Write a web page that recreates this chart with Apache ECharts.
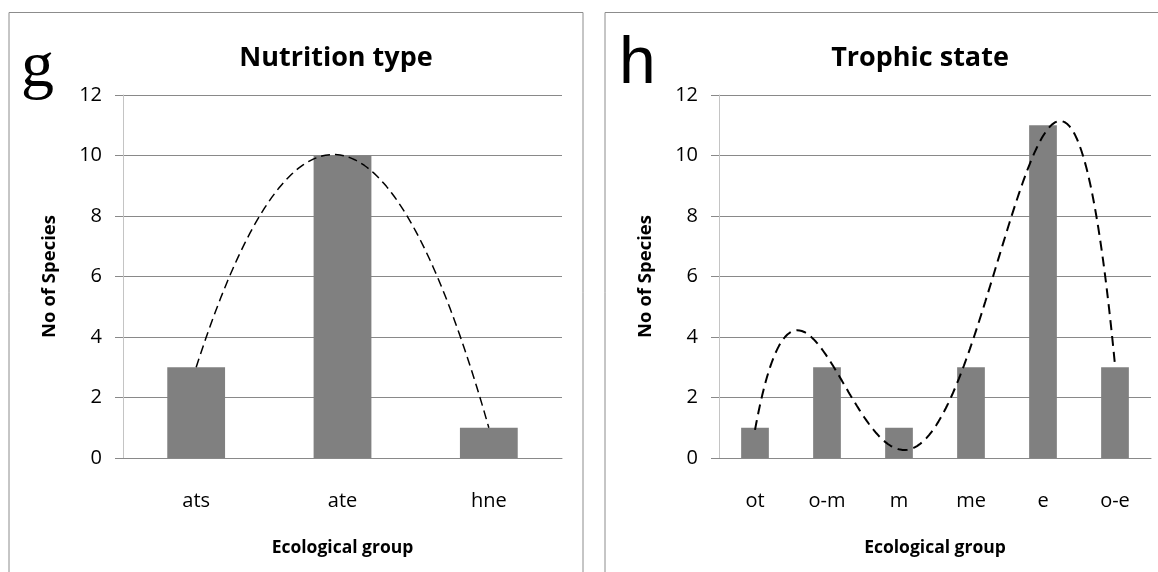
<!DOCTYPE html>
<html>
<head>
<meta charset="utf-8">
<script src="https://cdn.jsdelivr.net/npm/echarts@6/dist/echarts.min.js"></script>
<style>
  html, body { margin: 0; padding: 0; background: #fff; }
  #chart { width: 1158px; height: 572px; }
</style>
</head>
<body>
<div id="chart"></div>
<script>
// Species counts per ecological group
const nutritionGroups = ['ats', 'ate', 'hne'];
const nutritionCounts = [3, 10, 1];

const trophicGroups = ['ot', 'o-m', 'm', 'me', 'e', 'o-e'];
const trophicCounts = [1, 3, 1, 3, 11, 3];

const countTicks = [0, 2, 4, 6, 8, 10, 12];

// Polynomial trend line order used for each panel
const nutritionTrendOrder = 2;
const trophicTrendOrder = 4;

// Least-squares polynomial fit (normal equations, Gaussian elimination)
function polyFit(ys, order) {
  const n = order + 1;
  const A = [];
  for (let r = 0; r < n; r++) {
    const row = [];
    for (let c = 0; c < n; c++) {
      let s = 0;
      ys.forEach((_, i) => { s += Math.pow(i, r + c); });
      row.push(s);
    }
    let b = 0;
    ys.forEach((y, i) => { b += y * Math.pow(i, r); });
    row.push(b);
    A.push(row);
  }
  for (let c = 0; c < n; c++) {
    let p = c;
    for (let r = c + 1; r < n; r++) if (Math.abs(A[r][c]) > Math.abs(A[p][c])) p = r;
    [A[c], A[p]] = [A[p], A[c]];
    for (let r = 0; r < n; r++) {
      if (r === c) continue;
      const f = A[r][c] / A[c][c];
      for (let k = c; k <= n; k++) A[r][k] -= f * A[c][k];
    }
  }
  return A.map((row, i) => row[n] / row[i]);
}

// Trend curve sampled along the category positions
function trendCurve(ys, order) {
  const coef = polyFit(ys, order);
  const pts = [];
  const last = ys.length - 1;
  for (let k = 0; k <= last * 60; k++) {
    const x = k / 60;
    let y = 0;
    coef.forEach((c, p) => { y += c * Math.pow(x, p); });
    pts.push([x, y]);
  }
  return pts;
}

const FONT = '"Open Sans", "Noto Sans", sans-serif';
const GRID_COLOR = '#898989';
const BAR_COLOR = '#808080';

function categoryAxis(gridIndex, cats) {
  return {
    type: 'category', gridIndex, data: cats,
    axisLine: { lineStyle: { color: GRID_COLOR, width: 1 } },
    axisTick: { show: false },
    axisLabel: { color: '#000', fontFamily: FONT, fontSize: 20, margin: 33 },
    name: 'Ecological group', nameLocation: 'middle', nameGap: 81,
    nameTextStyle: { color: '#000', fontFamily: FONT, fontSize: 17.5, fontWeight: 'bold' }
  };
}

function valueAxis(gridIndex) {
  return {
    type: 'value', gridIndex, min: 0, max: 12, interval: 2,
    axisLine: { show: true, onZero: false, lineStyle: { color: '#c4c4c4', width: 1 } },
    axisTick: { show: true, length: 8, lineStyle: { color: GRID_COLOR } },
    splitLine: { lineStyle: { color: GRID_COLOR, width: 1 } },
    axisLabel: {
      color: '#000', fontFamily: FONT, fontSize: 20, margin: 21,
      formatter: v => countTicks.includes(v) ? String(v) : ''
    },
    name: 'No of Species', nameLocation: 'middle', nameGap: 64, nameRotate: 90,
    nameTextStyle: { color: '#000', fontFamily: FONT, fontSize: 18.5, fontWeight: 'bold' }
  };
}

function hiddenX(gridIndex, count) {
  return { type: 'value', gridIndex, min: -0.5, max: count - 0.5, show: false };
}

const chart = echarts.init(document.getElementById('chart'), null, { renderer: 'canvas' });

chart.setOption({
  animation: false,
  backgroundColor: '#fff',
  title: [
    { text: 'Nutrition type', left: 331, top: 40, textAlign: 'center',
      textStyle: { fontFamily: FONT, fontSize: 27, fontWeight: 'bold', color: '#000' } },
    { text: 'Trophic state', left: 915, top: 40, textAlign: 'center',
      textStyle: { fontFamily: FONT, fontSize: 27, fontWeight: 'bold', color: '#000' } }
  ],
  grid: [
    { left: 123, top: 95, width: 439, height: 363 },
    { left: 719, top: 95, width: 432, height: 363 }
  ],
  xAxis: [
    categoryAxis(0, nutritionGroups),
    categoryAxis(1, trophicGroups),
    hiddenX(0, nutritionGroups.length),
    hiddenX(1, trophicGroups.length)
  ],
  yAxis: [valueAxis(0), valueAxis(1)],
  series: [
    { type: 'bar', xAxisIndex: 0, yAxisIndex: 0, data: nutritionCounts,
      barWidth: '39.5%', itemStyle: { color: BAR_COLOR } },
    { type: 'bar', xAxisIndex: 1, yAxisIndex: 1, data: trophicCounts,
      barWidth: '38.5%', itemStyle: { color: BAR_COLOR } },
    { type: 'line', xAxisIndex: 2, yAxisIndex: 0, z: 5,
      data: trendCurve(nutritionCounts, nutritionTrendOrder),
      showSymbol: false, symbol: 'none', silent: true,
      lineStyle: { color: '#000', width: 1.5, type: [9, 5] } },
    { type: 'line', xAxisIndex: 3, yAxisIndex: 1, z: 5,
      data: trendCurve(trophicCounts, trophicTrendOrder),
      showSymbol: false, symbol: 'none', silent: true,
      lineStyle: { color: '#000', width: 2, type: [10, 6] } }
  ],
  graphic: [
    // panel frames
    { type: 'rect', shape: { x: 9, y: 12.5, width: 574, height: 600 },
      style: { fill: null, stroke: '#8c8c8c', lineWidth: 1 }, silent: true },
    { type: 'rect', shape: { x: 605, y: 12.5, width: 600, height: 600 },
      style: { fill: null, stroke: '#8c8c8c', lineWidth: 1 }, silent: true },
    // panel letters
    { type: 'text', left: 21, top: 36,
      style: { text: 'g', font: '66px "Liberation Serif", serif', fill: '#000' } },
    { type: 'text', left: 619, top: 32,
      style: { text: 'h', font: '66px "Liberation Sans", sans-serif', fill: '#000' } }
  ]
});
</script>
</body>
</html>
